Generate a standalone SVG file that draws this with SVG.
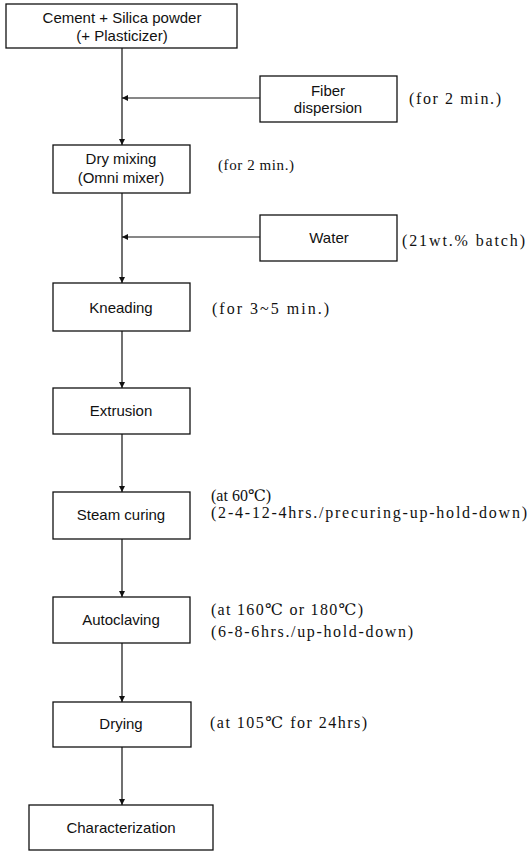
<svg xmlns="http://www.w3.org/2000/svg" width="528" height="854" viewBox="0 0 528 854">
<style>
.box{fill:#fff;stroke:#111;stroke-width:1.3}
.lbl{font-family:"Liberation Sans",Arial,sans-serif;font-size:15px;fill:#111;text-anchor:middle}
.note{font-family:"Liberation Serif","DejaVu Serif","Noto Sans CJK KR",serif;font-size:16px;fill:#111}
.sm{font-size:15px}
.wire{fill:none;stroke:#111;stroke-width:1.2}
</style>
<defs>
<marker id="ah" viewBox="0 0 10 10" refX="10" refY="5" markerWidth="7" markerHeight="6" markerUnits="userSpaceOnUse" orient="auto">
<path d="M0,0 L10,5 L0,10 z" fill="#111"/>
</marker>
</defs>
<rect width="528" height="854" fill="#fff"/>
<g id="connectors">
<path class="wire" d="M122,48 V145" marker-end="url(#ah)"/>
<path class="wire" d="M260,98 H122" marker-end="url(#ah)"/>
<path class="wire" d="M122,193 V283" marker-end="url(#ah)"/>
<path class="wire" d="M260,237 H122" marker-end="url(#ah)"/>
<path class="wire" d="M122,331 V388" marker-end="url(#ah)"/>
<path class="wire" d="M122,434 V492" marker-end="url(#ah)"/>
<path class="wire" d="M122,539 V597" marker-end="url(#ah)"/>
<path class="wire" d="M122,643 V702" marker-end="url(#ah)"/>
<path class="wire" d="M122,747 V805" marker-end="url(#ah)"/>
</g>
<g id="n-cement">
<rect class="box" x="6" y="4" width="231" height="44"/>
<text class="lbl" x="122" y="23">Cement + Silica powder</text>
<text class="lbl" x="122" y="41">(+ Plasticizer)</text>
</g>
<g id="n-fiber">
<rect class="box" x="260" y="76" width="137" height="46"/>
<text class="lbl" x="328" y="96">Fiber</text>
<text class="lbl" x="328" y="113">dispersion</text>
<text class="note" x="409" y="104" textLength="92" lengthAdjust="spacing">(for 2 min.)</text>
</g>
<g id="n-dry">
<rect class="box" x="53" y="145" width="137" height="48"/>
<text class="lbl" x="121" y="164">Dry mixing</text>
<text class="lbl" x="121" y="183">(Omni mixer)</text>
<text class="note sm" x="218" y="170" textLength="76" lengthAdjust="spacing">(for 2 min.)</text>
</g>
<g id="n-water">
<rect class="box" x="260" y="215" width="137" height="46"/>
<text class="lbl" x="329" y="243">Water</text>
<text class="note" x="402" y="246" textLength="123" lengthAdjust="spacing">(21wt.% batch)</text>
</g>
<g id="n-kneading">
<rect class="box" x="53" y="283" width="137" height="48"/>
<text class="lbl" x="121" y="313">Kneading</text>
<text class="note" x="212" y="314" textLength="117" lengthAdjust="spacing">(for 3~5 min.)</text>
</g>
<g id="n-extrusion">
<rect class="box" x="53" y="388" width="137" height="46"/>
<text class="lbl" x="121" y="416">Extrusion</text>
</g>
<g id="n-steam">
<rect class="box" x="53" y="492" width="137" height="47"/>
<text class="lbl" x="121" y="520">Steam curing</text>
<text class="note" x="211" y="501">(at 60℃)</text>
<text class="note" x="211" y="518" textLength="316" lengthAdjust="spacing">(2-4-12-4hrs./precuring-up-hold-down)</text>
</g>
<g id="n-autoclaving">
<rect class="box" x="53" y="597" width="137" height="46"/>
<text class="lbl" x="121" y="625">Autoclaving</text>
<text class="note" x="211" y="615" textLength="152" lengthAdjust="spacing">(at 160℃ or 180℃)</text>
<text class="note" x="211" y="637" textLength="202" lengthAdjust="spacing">(6-8-6hrs./up-hold-down)</text>
</g>
<g id="n-drying">
<rect class="box" x="53" y="702" width="138" height="45"/>
<text class="lbl" x="121" y="729">Drying</text>
<text class="note" x="210" y="728" textLength="157" lengthAdjust="spacing">(at 105℃ for 24hrs)</text>
</g>
<g id="n-char">
<rect class="box" x="29" y="805" width="184" height="45"/>
<text class="lbl" x="121" y="833">Characterization</text>
</g>
</svg>
